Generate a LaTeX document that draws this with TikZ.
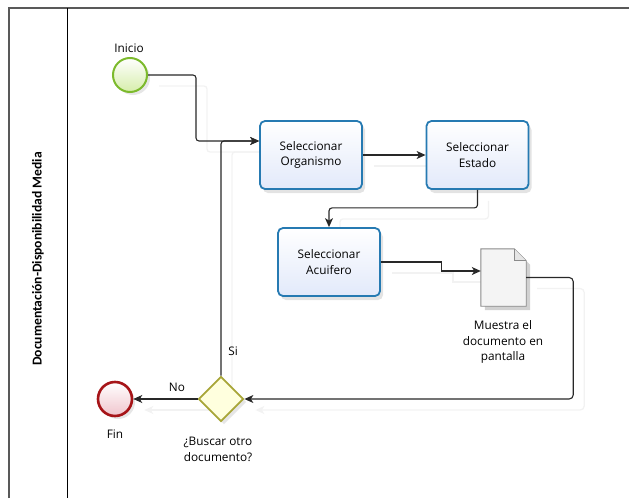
\documentclass[tikz,border=0pt]{standalone}
\usepackage{fontspec}
\setmainfont{Open Sans}
\newfontfamily\lanefont{Carlito}
\usetikzlibrary{arrows.meta,shapes.geometric,shadows,calc}
\pgfdeclarelayer{bg}
\pgfsetlayers{bg,main}
\definecolor{taskb}{RGB}{38,122,178}
\definecolor{taskf}{RGB}{226,233,250}
\definecolor{startb}{RGB}{124,186,44}
\definecolor{startf}{RGB}{214,238,170}
\definecolor{endb}{RGB}{166,20,24}
\definecolor{endf}{RGB}{240,196,204}
\definecolor{gwb}{RGB}{168,166,56}
\definecolor{gwf}{RGB}{255,255,222}
\definecolor{docb}{RGB}{138,138,138}
\definecolor{docf}{RGB}{244,244,244}
\definecolor{linec}{RGB}{40,40,40}
\newcommand\drawconns{%
  \draw[flow, rounded corners=3pt] (start.east) -- ++(48,0) |- (orgin);
  \draw[flow, rounded corners=3pt] (gw.north) |- (orgin);
  \draw[flow] (org.east) -- (est.west);
  \draw[flow, rounded corners=3pt] (est.south) -- ++(0,18) -| (acu.north);
  \draw[flow] (acu.east) -- ++(61,0) |- (docin);
  \draw[flow, rounded corners=4pt] (doc.east) -- ++(47,0) |- (gw.east);
  \draw[flow] (gw.west) -- (fin.east);
}
\begin{document}
\begin{tikzpicture}[x=1pt,y=-1pt,
  font=\fontsize{11.8}{15.8}\selectfont,
  flow/.style={draw=linec, line width=1.1pt, -{Stealth[length=9pt,width=8pt,inset=2.5pt]}},
  ghost/.style={draw=black!5, line width=1.3pt, -{Stealth[length=9pt,width=8pt,inset=2.5pt]}},
  task/.style={draw=taskb, line width=1.8pt, rounded corners=5pt, minimum width=102pt,
    minimum height=68pt, inner sep=2pt, align=center, top color=white, bottom color=taskf,
    drop shadow={shadow xshift=3pt, shadow yshift=-4pt, opacity=0.22, fill=black!50}},
  txt/.style={align=center, inner sep=0pt}
]
\useasboundingbox (0,0) rectangle (629,498);
% pool and lane
\draw[draw=black!65, line width=1.3pt] (9,498) -- (9,8) -- (629,8);
\draw[draw=black, line width=0.9pt] (67,8) -- (67,498);
\node[rotate=90, inner sep=0pt, font=\lanefont\bfseries\fontsize{13.6}{15}\selectfont] (lane) at (38,259) {Documentación-Disponibilidad Media};

% events
\node[circle, minimum size=34pt, inner sep=0pt, draw=startb, line width=2pt,
  top color=white, bottom color=startf,
  drop shadow={shadow xshift=3pt, shadow yshift=-3pt, opacity=0.2, fill=black!50}] (start) at (130,75) {};
\node[txt] (startlbl) at (129,48) {Inicio};

\node[circle, minimum size=34pt, inner sep=0pt, draw=endb, line width=2.6pt,
  top color=white, bottom color=endf,
  drop shadow={shadow xshift=3pt, shadow yshift=-3pt, opacity=0.2, fill=black!50}] (fin) at (115,399) {};
\node[txt] (finlbl) at (115,434) {Fin};

% tasks
\node[task] (org) at (311,155) {Seleccionar\\Organismo};
\node[task] (est) at (477.5,155) {Seleccionar\\Estado};
\node[task] (acu) at (329,262) {Seleccionar\\Acuifero};

% document
\node[minimum width=45pt, minimum height=57pt, inner sep=0pt] (doc) at (503.5,277.5) {};
\fill[black!18] ($(doc.north west)+(4,4)$) -- ($(doc.north east)+(-8,4)$) -- ($(doc.north east)+(4,16)$) -- ($(doc.south east)+(4,4)$) -- ($(doc.south west)+(4,4)$) -- cycle;
\draw[draw=docb, fill=docf, line width=0.9pt] (doc.north west) -- ($(doc.north east)+(-12,0)$) -- ($(doc.north east)+(0,12)$) -- (doc.south east) -- (doc.south west) -- cycle;
\draw[draw=docb, fill=black!10, line width=0.9pt] ($(doc.north east)+(-12,0)$) -- ($(doc.north east)+(-12,12)$) -- ($(doc.north east)+(0,12)$);
\node[txt] (doclbl) at (503,342) {Muestra el\\documento en\\pantalla};

% gateway
\node[diamond, minimum width=45pt, minimum height=45pt, inner sep=0pt, draw=gwb, line width=1.8pt,
  fill=gwf, drop shadow={shadow xshift=3pt, shadow yshift=-3pt, opacity=0.2, fill=black!50}] (gw) at (221,399) {};
\node[txt] (gwlbl) at (218,449) {¿Buscar otro\\documento?};

\coordinate (orgin) at ($(org.west)+(0,-14)$);
\coordinate (docin) at ($(doc.west)+(0,-6.5)$);

\begin{pgfonlayer}{bg}
\begin{scope}[transform canvas={shift={(11pt,-11pt)}}, flow/.style={ghost}]
\drawconns
\end{scope}
\end{pgfonlayer}
\drawconns

\node[txt] (silbl) at (233,351) {Si};
\node[txt] (nolbl) at (177,387) {No};
\end{tikzpicture}
\end{document}
